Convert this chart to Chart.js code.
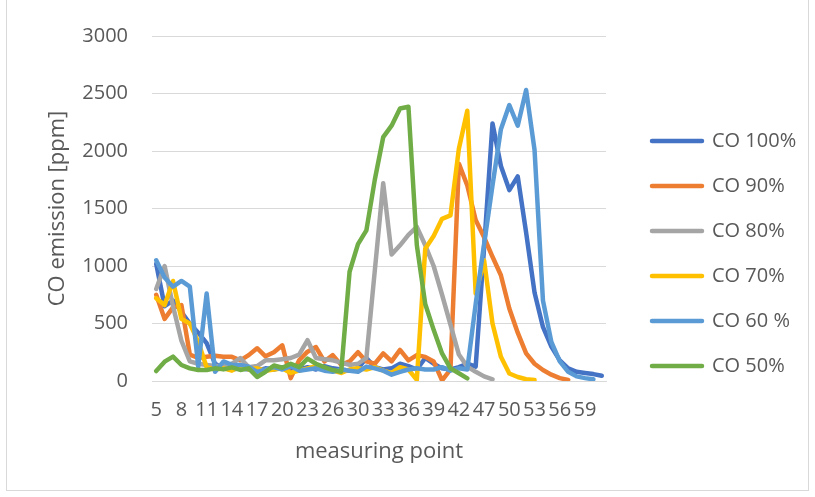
<!DOCTYPE html>
<html>
<head>
<meta charset="utf-8">
<title>CO emission</title>
<script src="https://cdn.jsdelivr.net/npm/chart.js@4"></script>
<style>
  html, body { margin: 0; padding: 0; background: #fff; }
  #wrap { position: relative; width: 815px; height: 497px; overflow: hidden; }
  #co-chart { position: absolute; left: 0; top: 0; }
  #frame { position: absolute; left: 6px; top: -1px; width: 801px; height: 490px; border: 1px solid #d9d9d9; pointer-events: none; }
</style>
</head>
<body>
<div id="wrap">
  <canvas id="co-chart" width="815" height="497"></canvas>
  <div id="frame"></div>
</div>
<script>
// measuring points (27, 44, 46 are not in the series)
const measuringPoints = [5, 6, 7, 8, 9, 10, 11, 12, 13, 14, 15, 16, 17, 18, 19, 20, 21, 22, 23, 24, 25, 26,
  28, 29, 30, 31, 32, 33, 34, 35, 36, 37, 38, 39, 40, 41, 42, 43, 45,
  47, 48, 49, 50, 51, 52, 53, 54, 55, 56, 57, 58, 59, 60, 61];

const seriesNames = ['CO 100%', 'CO 90%', 'CO 80%', 'CO 70%', 'CO 60 %', 'CO 50%'];
const seriesColors = ['#4472C4', '#ED7D31', '#A5A5A5', '#FFC000', '#5B9BD5', '#70AD47'];

const co100 = [1020, 650, 700, 600, 500, 420, 330, 150, 110, 100, 110, 100, 90, 110, 100, 120, 110, 100, 120, 100,
  130, 110, 100, 90, 110, 200, 120, 100, 110, 150, 130, 100, 200, 150, 110, 100, 120, 150, 125, 1160,
  2240, 1870, 1660, 1780, 1290, 770, 470, 300, 180, 110, 80, 70, 60, 45];
const co90 = [750, 540, 640, 660, 230, 200, 210, 220, 210, 210, 180, 225, 285, 215, 250, 310, 25, 180, 255, 295,
  170, 225, 140, 170, 250, 170, 150, 240, 170, 270, 180, 225, 210, 170, 5, 100, 1890, 1700, 1400, 1250,
  1080, 920, 630, 420, 240, 150, 95, 55, 25, 10];
const co80 = [800, 1000, 650, 350, 170, 150, 140, 130, 130, 150, 200, 120, 130, 180, 180, 190, 200, 230, 355, 200,
  190, 180, 160, 140, 150, 200, 960, 1720, 1100, 1180, 1270, 1340, 1180, 1000, 750, 490, 230, 125, 80, 40, 15];
const co70 = [720, 660, 870, 540, 500, 340, 120, 100, 110, 90, 130, 100, 110, 90, 100, 110, 70, 90, 110, 130,
  100, 90, 70, 100, 110, 100, 120, 90, 70, 120, 100, 10, 1150, 1260, 1410, 1440, 2020, 2350, 760, 1050,
  500, 210, 65, 35, 15, 8];
const co60 = [1050, 900, 820, 870, 820, 125, 760, 80, 170, 140, 140, 125, 80, 100, 120, 100, 130, 90, 100, 110,
  90, 80, 100, 90, 80, 125, 110, 90, 55, 80, 100, 110, 100, 100, 120, 90, 110, 100, 670, 1190,
  1700, 2190, 2400, 2220, 2530, 2010, 700, 340, 170, 80, 40, 25, 15];
const co50 = [87, 168, 212, 139, 110, 96, 96, 110, 101, 119, 96, 110, 35, 80, 135, 115, 150, 120, 195, 150,
  120, 95, 80, 950, 1190, 1310, 1750, 2120, 2220, 2370, 2385, 1180, 670, 445, 240, 110, 67, 23];

const seriesValues = [co100, co90, co80, co70, co60, co50];

const textColor = '#595959';
const tickFont = { family: "'Open Sans', sans-serif", size: 20 };
const titleFont = { family: "'Open Sans', sans-serif", size: 22 };
const lineWidth = 4.5;

new Chart(document.getElementById('co-chart'), {
  type: 'line',
  data: {
    labels: measuringPoints,
    datasets: seriesValues.map((values, i) => ({
      label: seriesNames[i],
      data: values,
      borderColor: seriesColors[i],
      backgroundColor: seriesColors[i],
      order: seriesValues.length - i  // later series drawn on top, like Excel
    }))
  },
  options: {
    responsive: false,
    animation: false,
    devicePixelRatio: 1,
    layout: { padding: { top: 10, right: 12, bottom: 0, left: 0 } },
    elements: {
      point: { radius: 0, hoverRadius: 0 },
      line: { borderWidth: lineWidth, borderCapStyle: 'round', borderJoinStyle: 'round', tension: 0 }
    },
    plugins: {
      tooltip: { enabled: false },
      legend: {
        position: 'right',
        maxWidth: 176,
        labels: {
          usePointStyle: true,
          pointStyle: 'line',
          pointStyleWidth: 50,
          padding: 25,
          color: textColor,
          font: tickFont,
          generateLabels(chart) {
            const items = Chart.defaults.plugins.legend.labels.generateLabels(chart);
            items.forEach(item => {
              item.lineCap = 'round';
              item.lineWidth = lineWidth;
            });
            return items.sort((a, b) => a.datasetIndex - b.datasetIndex);
          }
        }
      }
    },
    scales: {
      x: {
        offset: true,
        grid: { display: false, drawTicks: false },
        border: { display: true, color: '#d9d9d9' },
        ticks: {
          autoSkip: false,
          maxRotation: 0,
          minRotation: 0,
          padding: 17,
          color: textColor,
          font: tickFont,
          callback(value, index) {
            return index % 3 === 0 ? this.getLabelForValue(value) : '';
          }
        },
        title: { display: true, text: 'measuring point', color: textColor, font: titleFont, padding: { top: 0, bottom: 32 } },
        afterFit(scale) { scale.height = 116; }
      },
      y: {
        min: 0,
        max: 3000,
        grid: { color: '#d9d9d9', drawTicks: false },
        border: { display: false },
        ticks: { stepSize: 500, padding: 24, color: textColor, font: tickFont, callback: v => String(v) },
        title: { display: true, text: 'CO emission [ppm]', color: textColor, font: titleFont, padding: { top: 45, bottom: 0 } },
        afterFit(scale) { scale.width = 152; }
      },
      // empty spacers: above the plot and between plot and legend
      topSpacer: {
        position: 'top',
        grid: { display: false },
        border: { display: false },
        ticks: { display: false },
        afterFit(scale) { scale.height = 26; }
      },
      rightSpacer: {
        position: 'right',
        grid: { display: false },
        border: { display: false },
        ticks: { display: false },
        afterFit(scale) { scale.width = 21; }
      }
    }
  }
});
</script>
</body>
</html>
